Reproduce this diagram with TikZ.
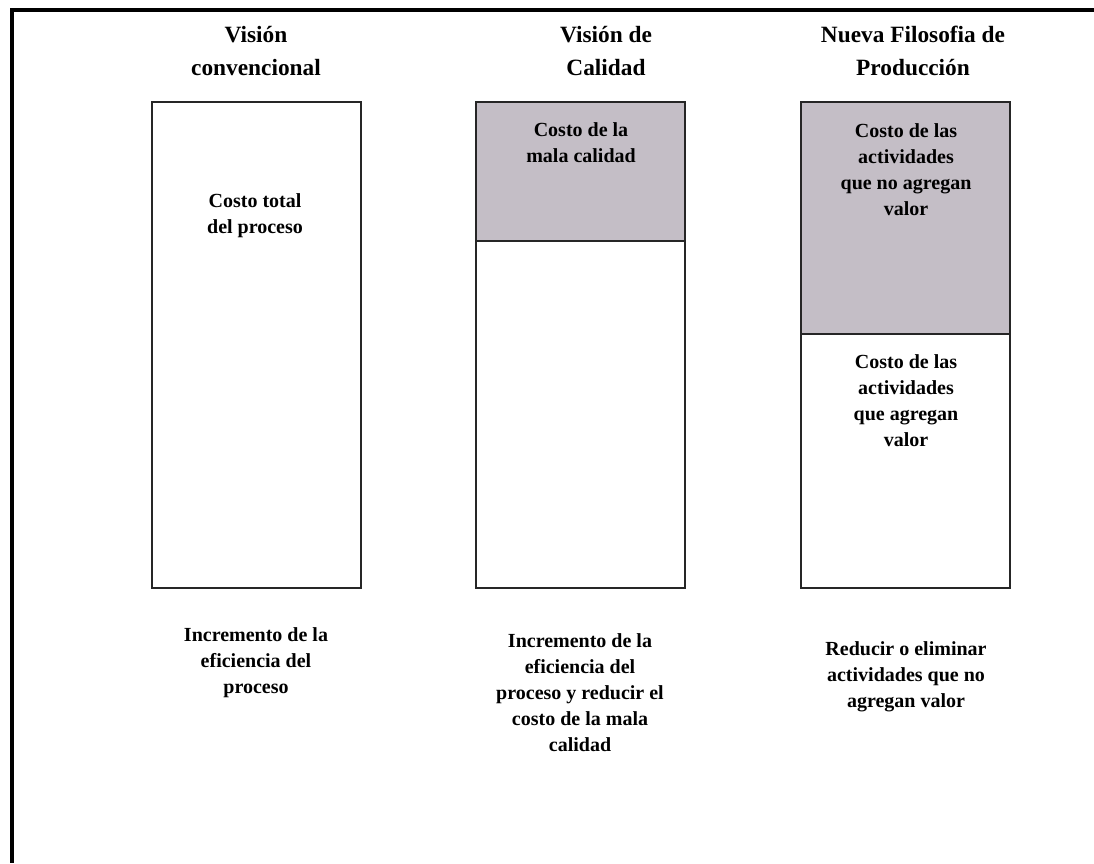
\documentclass[tikz,border=0pt]{standalone}
\usepackage{fontspec}
\setmainfont{Liberation Serif}
\usetikzlibrary{positioning}
\definecolor{malagray}{RGB}{196,190,198}

\begin{document}
\begin{tikzpicture}[x = 0.75pt, y = -0.75pt,
  title/.style = {align=center, font=\bfseries\fontsize{17.5}{24.5}\selectfont},
  txt/.style = {align=center, font=\bfseries\fontsize{15}{19.5}\selectfont},
  bar/.style = {draw = black!85, line width = 1.5pt}]
\useasboundingbox (0,0) rectangle (1094,863);
\draw[line width = 3pt] (1094,10) -- (12,10) -- (12,863);
% columnas
\fill[malagray] (476,102) rectangle (685,241);
\fill[malagray] (801,102) rectangle (1010,334);
\draw[bar] (152,102) rectangle (361,588);
\draw[bar] (476,102) rectangle (685,588);
\draw[bar] (801,102) rectangle (1010,588);
\draw[bar] (476,241) -- (685,241);
\draw[bar, line width = 2.2pt] (801,334) -- (1010,334);
\node[title] (conv) at (256,51) {Visión\\convencional};
\node[title] (cal) at (606,51) {Visión de\\Calidad};
\node[title] (nueva) at (913,51) {Nueva Filosofia de\\Producción};
\node[txt] (total) at (255,216) {Costo total\\del proceso};
\node[txt] (mala) at (581,143) {Costo de la\\mala calidad};
\node[txt] (nova) at (906,170) {Costo de las\\actividades\\que no agregan\\valor};
\node[txt] (va) at (906,401) {Costo de las\\actividades\\que agregan\\valor};
% objetivos
\node[txt] (obj1) at (256,663) {Incremento de la\\eficiencia del\\proceso};
\node[txt] (obj2) at (580,693) {Incremento de la\\eficiencia del\\proceso y reducir el\\costo de la mala\\calidad};
\node[txt] (obj3) at (906,677) {Reducir o eliminar\\actividades que no\\agregan valor};
\end{tikzpicture}
\end{document}
